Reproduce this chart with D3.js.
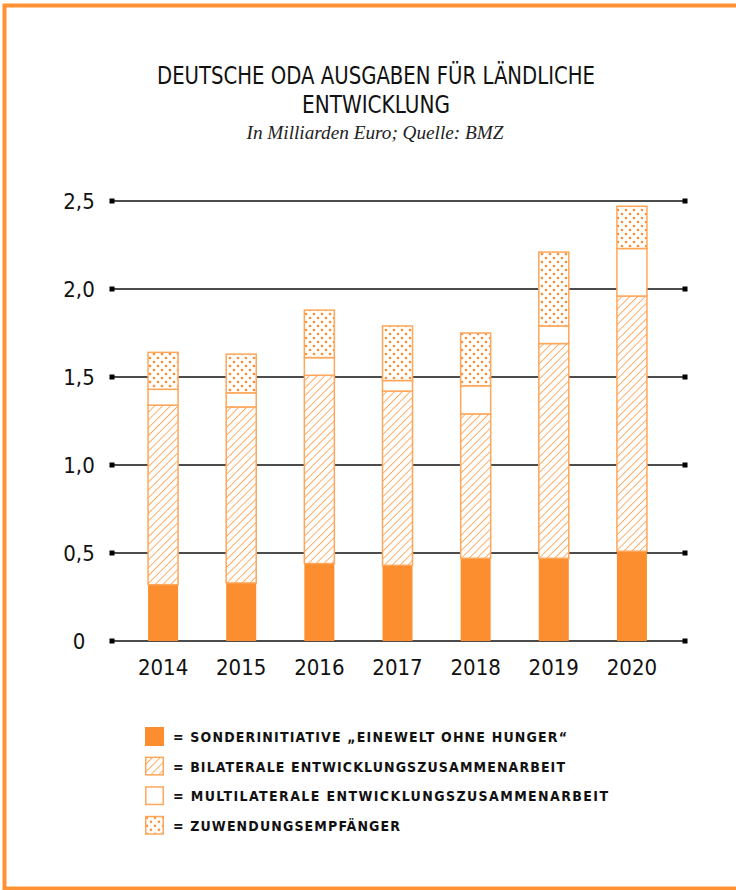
<!DOCTYPE html>
<html>
<head>
  <meta charset="utf-8">
  <title>Deutsche ODA Ausgaben für ländliche Entwicklung</title>
  <script src="https://d3js.org/d3.v7.min.js"></script>
  <style>
    body { margin: 0; background: #fff; }
    .cond { font-family: "Liberation Sans Narrow", "DejaVu Sans Condensed", "Roboto", sans-serif; font-stretch: condensed; }
  </style>
</head>
<body>
<svg width="736" height="890"></svg>
<script>
  // data (Mrd. Euro)
  const years = ["2014", "2015", "2016", "2017", "2018", "2019", "2020"];
  const sonder = [0.32, 0.33, 0.44, 0.43, 0.47, 0.47, 0.51];
  const bilateral = [1.02, 1.00, 1.07, 0.99, 0.82, 1.22, 1.45];
  const multilateral = [0.09, 0.08, 0.10, 0.06, 0.16, 0.10, 0.27];
  const zuwendung = [0.21, 0.22, 0.27, 0.31, 0.30, 0.42, 0.24];

  const yTicks = [0, 0.5, 1.0, 1.5, 2.0, 2.5];
  const yTickLabels = ["0", "0,5", "1,0", "1,5", "2,0", "2,5"];

  const keys = ["sonder", "bilateral", "multilateral", "zuwendung"];
  const legendLabels = [
    "= SONDERINITIATIVE \u201EEINEWELT OHNE HUNGER\u201C",
    "= BILATERALE ENTWICKLUNGSZUSAMMENARBEIT",
    "= MULTILATERALE ENTWICKLUNGSZUSAMMENARBEIT",
    "= ZUWENDUNGSEMPF\u00C4NGER"
  ];

  const orange = "#fd8e2f";
  const lightOrange = "#ffa65a";

  const table = years.map((y, i) => ({
    year: y,
    sonder: sonder[i],
    bilateral: bilateral[i],
    multilateral: multilateral[i],
    zuwendung: zuwendung[i]
  }));

  const svg = d3.select("svg");

  // patterns
  const defs = svg.append("defs");
  const hatch = defs.append("pattern")
    .attr("id", "hatch")
    .attr("patternUnits", "userSpaceOnUse")
    .attr("width", 5.5).attr("height", 5.5)
    .attr("patternTransform", "rotate(45)");
  hatch.append("rect").attr("width", 5.5).attr("height", 5.5).attr("fill", "#fff");
  hatch.append("line")
    .attr("x1", 0).attr("y1", 0).attr("x2", 0).attr("y2", 5.5)
    .attr("stroke", lightOrange).attr("stroke-width", 1.8);

  const dots = defs.append("pattern")
    .attr("id", "dots")
    .attr("patternUnits", "userSpaceOnUse")
    .attr("width", 8).attr("height", 8);
  dots.append("rect").attr("width", 8).attr("height", 8).attr("fill", "#fff");
  dots.append("circle").attr("cx", 2).attr("cy", 2).attr("r", 1.3).attr("fill", orange);
  dots.append("circle").attr("cx", 6).attr("cy", 6).attr("r", 1.3).attr("fill", orange);

  const fills = {
    sonder: orange,
    bilateral: "url(#hatch)",
    multilateral: "#fff",
    zuwendung: "url(#dots)"
  };

  // frame
  svg.append("rect")
    .attr("x", 4.5).attr("y", 5.5)
    .attr("width", 800).attr("height", 883)
    .attr("fill", "none")
    .attr("stroke", "#ff9233")
    .attr("stroke-width", 4);

  // title
  svg.append("text").attr("class", "cond")
    .attr("x", 376).attr("y", 84)
    .attr("text-anchor", "middle")
    .attr("font-size", 25).attr("fill", "#111")
    .attr("textLength", 438).attr("lengthAdjust", "spacingAndGlyphs")
    .text("DEUTSCHE ODA AUSGABEN FÜR LÄNDLICHE");
  svg.append("text").attr("class", "cond")
    .attr("x", 376).attr("y", 113)
    .attr("text-anchor", "middle")
    .attr("font-size", 25).attr("fill", "#111")
    .attr("textLength", 148).attr("lengthAdjust", "spacingAndGlyphs")
    .text("ENTWICKLUNG");
  svg.append("text")
    .attr("x", 375).attr("y", 139)
    .attr("text-anchor", "middle")
    .attr("font-family", "Liberation Serif, DejaVu Serif, serif")
    .attr("font-style", "italic")
    .attr("font-size", 18).attr("fill", "#222")
    .attr("textLength", 257).attr("lengthAdjust", "spacingAndGlyphs")
    .text("In Milliarden Euro; Quelle: BMZ");

  // scales
  const x = d3.scaleBand().domain(years).range([124, 671])
    .paddingInner(0.616).paddingOuter(0.308);
  const y = d3.scaleLinear().domain([0, 2.5]).range([641, 201]);

  // grid
  const grid = svg.append("g");
  grid.selectAll("line").data(yTicks).join("line")
    .attr("x1", 112).attr("x2", 685)
    .attr("y1", d => y(d)).attr("y2", d => y(d))
    .attr("stroke", "#111").attr("stroke-width", 1.3);
  grid.selectAll("rect.l").data(yTicks).join("rect").attr("class", "l")
    .attr("x", 109.5).attr("y", d => y(d) - 2.5)
    .attr("width", 5).attr("height", 5).attr("fill", "#000");
  grid.selectAll("rect.r").data(yTicks).join("rect").attr("class", "r")
    .attr("x", 682.5).attr("y", d => y(d) - 2.5)
    .attr("width", 5).attr("height", 5).attr("fill", "#000");
  grid.selectAll("text").data(yTicks).join("text").attr("class", "cond")
    .attr("x", 79).attr("y", d => y(d) + 8)
    .attr("text-anchor", "middle")
    .attr("font-size", 22).attr("fill", "#111")
    .text((d, i) => yTickLabels[i]);

  // bars
  const series = d3.stack().keys(keys)(table);
  svg.append("g").selectAll("g").data(series).join("g")
    .selectAll("rect").data(s => s.map(d => Object.assign(d, { key: s.key }))).join("rect")
    .attr("x", d => x(d.data.year))
    .attr("width", x.bandwidth())
    .attr("y", d => y(d[1]))
    .attr("height", d => y(d[0]) - y(d[1]))
    .attr("fill", d => fills[d.key])
    .attr("stroke", d => d.key === "sonder" ? "none" : lightOrange)
    .attr("stroke-width", 1.5);

  // x labels
  svg.append("g").selectAll("text").data(years).join("text").attr("class", "cond")
    .attr("x", d => x(d) + x.bandwidth() / 2)
    .attr("y", 675)
    .attr("text-anchor", "middle")
    .attr("font-size", 22).attr("fill", "#111")
    .text(d => d);

  // legend
  const legendWidths = [394, 392, 435, 227];
  const lg = svg.append("g").selectAll("g").data(keys).join("g")
    .attr("transform", (d, i) => `translate(145, ${727 + i * 29.6})`);
  lg.append("rect")
    .attr("x", 0.75).attr("y", 0.75)
    .attr("width", 17.5).attr("height", 17.5)
    .attr("fill", d => fills[d])
    .attr("stroke", d => d === "sonder" ? orange : lightOrange)
    .attr("stroke-width", 1.5);
  lg.append("text").attr("class", "cond")
    .attr("x", 28).attr("y", 15)
    .attr("font-size", 14).attr("font-weight", "bold").attr("fill", "#111")
    .attr("textLength", (d, i) => legendWidths[i]).attr("lengthAdjust", "spacing")
    .text((d, i) => legendLabels[i]);
</script>
</body>
</html>
